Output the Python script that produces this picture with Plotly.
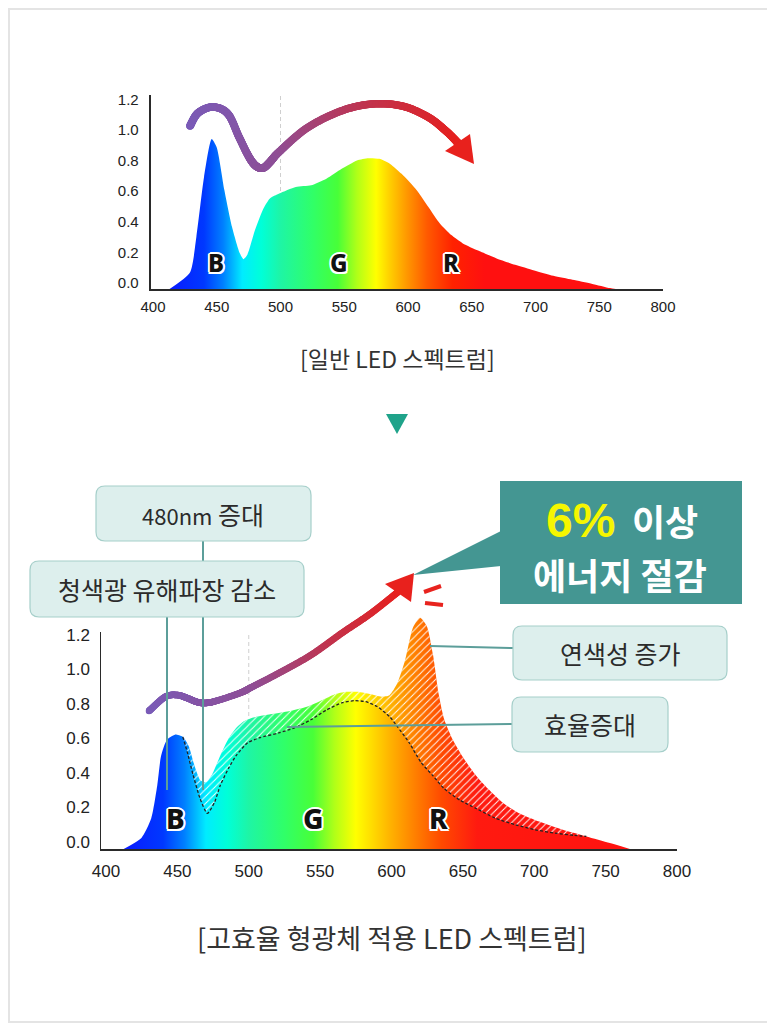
import numpy as np
import plotly.graph_objects as go

# page body has an 8px margin: the figure is sized to fill the remaining window exactly
OFF = 8
W, H = 775 - OFF, 1024 - OFF

# ---------------- data ----------------
# General LED spectrum (top chart)
GEN_NM = [413, 429, 434, 440, 446, 450, 456, 462, 468, 471, 474, 480, 486, 491.5, 499, 512, 524, 536,
          548, 560, 569, 577.5, 586, 595, 607, 616, 625, 634, 643, 655, 669.5, 684, 699, 714, 729, 744,
          758.5, 763]
GEN_VAL = [0, 0.108, 0.34, 0.73, 0.98, 0.925, 0.645, 0.405, 0.235, 0.195, 0.223, 0.385, 0.515, 0.59,
           0.623, 0.666, 0.677, 0.72, 0.785, 0.84, 0.854, 0.85, 0.817, 0.752, 0.644, 0.536, 0.428, 0.352,
           0.298, 0.251, 0.20, 0.158, 0.121, 0.086, 0.06, 0.035, 0.006, 0]

# High-efficiency phosphor LED spectrum (bottom chart)
NEW_NM = [412.4, 424.8, 431.7, 435.9, 438.6, 442.8, 448.3, 453.8, 457.9, 462, 466.2, 470.3, 474.5, 480,
          485.5, 491, 496.6, 502, 513, 527, 540.7, 551.7, 560, 568.3, 576.6, 584.8, 593, 598.6, 604,
          609.7, 615, 620, 624.8, 629, 633, 637, 642.8, 651, 659.3, 667.6, 678.6, 689.7, 703.4, 720,
          736.5, 753, 767]
NEW_VAL = [0, 0.064, 0.178, 0.368, 0.54, 0.635, 0.663, 0.65, 0.597, 0.483, 0.397, 0.387, 0.435, 0.54,
           0.635, 0.70, 0.74, 0.76, 0.778, 0.797, 0.825, 0.864, 0.896, 0.911, 0.911, 0.898, 0.883, 0.892,
           0.959, 1.10, 1.283, 1.34, 1.29, 1.13, 0.90, 0.749, 0.635, 0.52, 0.425, 0.349, 0.264, 0.206,
           0.159, 0.111, 0.073, 0.035, 0]

# Previous spectrum drawn dashed in the bottom chart
OLD_NM = [453.8, 457, 461, 466, 471, 476, 480, 486, 491, 499.3, 507.6, 521, 532, 543.4, 554.5, 565.5,
          573.8, 582, 590, 598.6, 604, 612.4, 620.7, 629, 637, 648, 659.3, 673, 687, 700.7, 714.5, 728,
          736.5]
OLD_VAL = [0.65, 0.56, 0.43, 0.29, 0.206, 0.27, 0.368, 0.47, 0.54, 0.616, 0.645, 0.673, 0.702, 0.749,
           0.806, 0.848, 0.86, 0.854, 0.826, 0.768, 0.711, 0.616, 0.502, 0.425, 0.349, 0.283, 0.235, 0.178,
           0.14, 0.111, 0.092, 0.079, 0.073]

X_TICKS = [400, 450, 500, 550, 600, 650, 700, 750, 800]
Y_TICKS = [0, 0.2, 0.4, 0.6, 0.8, 1.0, 1.2]
Y_TICKTEXT = ["0.0", "0.2", "0.4", "0.6", "0.8", "1.0", "1.2"]

SPECTRUM_NM = [400, 412, 440, 455, 470, 485, 500, 525, 545, 560, 575, 585, 600, 615, 635, 660, 800]
SPECTRUM_COL_TOP = ["#0a10ff", "#0a1aff", "#0038ff", "#0080ff", "#00ecff", "#00ffd8", "#1ef5a5", "#30ff68",
                    "#48ff38", "#b0ff18", "#ffff00", "#ffd200", "#ff9400", "#ff5a00", "#ff2200", "#ff1010",
                    "#ff1010"]
SPECTRUM_COL_BOT = ["#0a10ff", "#0a1aff", "#0038ff", "#0080ff", "#00ecff", "#00ffd8", "#1ef5a5", "#30ff68",
                    "#48ff38", "#b0ff18", "#ffff00", "#ffe000", "#ffb000", "#ff8400", "#ff4a00", "#ff1a10",
                    "#ff1010"]

CAPTION_TOP = "[일반 LED 스펙트럼]"
CAPTION_BOTTOM = "[고효율 형광체 적용 LED 스펙트럼]"
BAND_LABELS = ["B", "G", "R"]

KR = "Noto Sans CJK KR"
NUM = "Liberation Sans"

# ---------------- helpers ----------------
def catmull(pts, n=40):
    pts = np.asarray(pts, float)
    P = np.vstack([pts[0], pts, pts[-1]])
    out = []
    for i in range(1, len(P) - 2):
        p0, p1, p2, p3 = P[i - 1], P[i], P[i + 1], P[i + 2]
        t = np.linspace(0, 1, n, endpoint=False)[:, None]
        seg = 0.5 * ((2 * p1) + (-p0 + p2) * t + (2 * p0 - 5 * p1 + 4 * p2 - p3) * t ** 2
                     + (-p0 + 3 * p1 - 3 * p2 + p3) * t ** 3)
        out.append(seg)
    out.append(P[-2][None, :])
    return np.vstack(out)


def rrect(x0, y0, x1, y1, r=9):
    return (f"M{x0+r},{y0} L{x1-r},{y0} Q{x1},{y0} {x1},{y0+r} L{x1},{y1-r} Q{x1},{y1} {x1-r},{y1} "
            f"L{x0+r},{y1} Q{x0},{y1} {x0},{y1-r} L{x0},{y0+r} Q{x0},{y0} {x0+r},{y0} Z")


def dx(px):
    return (px - OFF) / W


def dy(py):
    return 1 - (py - OFF) / H


def grad(cols):
    cs = [[(nm - 400) / 400, c] for nm, c in zip(SPECTRUM_NM, cols)]
    return dict(type="horizontal", colorscale=cs, start=400, stop=800)


fig = go.Figure()

# ---------------- top chart ----------------
fig.add_trace(go.Scatter(x=GEN_NM, y=GEN_VAL, mode="lines", line=dict(width=0, shape="spline", smoothing=0.6),
                         fill="tozeroy", fillgradient=grad(SPECTRUM_COL_TOP), xaxis="x", yaxis="y",
                         hoverinfo="skip"))

# ---------------- bottom chart ----------------
fig.add_trace(go.Scatter(x=NEW_NM, y=NEW_VAL, mode="lines", line=dict(width=0, shape="spline", smoothing=0.6),
                         fill="tozeroy", fillgradient=grad(SPECTRUM_COL_BOT), xaxis="x2", yaxis="y2",
                         hoverinfo="skip"))
fig.add_trace(go.Scatter(x=OLD_NM, y=OLD_VAL, mode="lines", line=dict(width=0, shape="spline", smoothing=0.6),
                         xaxis="x2", yaxis="y2", hoverinfo="skip"))
mask = [(OLD_NM[0] <= n <= OLD_NM[-1]) for n in NEW_NM]
sub_x = [n for n, m in zip(NEW_NM, mask) if m]
sub_y = [v for v, m in zip(NEW_VAL, mask) if m]
fig.add_trace(go.Scatter(x=sub_x, y=sub_y, mode="lines", line=dict(width=0, shape="spline", smoothing=0.6),
                         fill="tonexty", fillcolor="rgba(0,0,0,0)",
                         fillpattern=dict(shape="/", fgcolor="white", bgcolor="rgba(0,0,0,0)", size=5,
                                          solidity=0.2, fgopacity=0.95),
                         xaxis="x2", yaxis="y2", hoverinfo="skip"))
fig.add_trace(go.Scatter(x=OLD_NM, y=OLD_VAL, mode="lines",
                         line=dict(width=1.3, color="#222", dash="3px,2px", shape="spline", smoothing=0.6),
                         xaxis="x2", yaxis="y2", hoverinfo="skip"))

# ---------------- decorative arrows (canvas axis, screen pixel space) ----------------
arrow_cs = [[0, "#7a5cb8"], [0.4, "#8f4f96"], [0.7, "#c0344f"], [1, "#e6211f"]]
TOP_ARROW = [(190, 126), (198, 113), (213, 107), (228, 114), (239, 137), (249, 157), (256, 166),
             (263, 168), (270, 162), (279, 152), (307, 128), (341, 111), (372, 104), (402, 106),
             (428, 117), (446, 131), (458, 143)]
BOT_ARROW = [(149, 711), (165, 697), (177, 695), (187, 698), (197, 702), (205, 703), (216, 701),
             (240, 693), (252, 687), (279, 673), (311, 655), (342, 633), (370, 614), (398, 592)]
for pts, sz in [(TOP_ARROW, 7.5), (BOT_ARROW, 6.5)]:
    c = catmull(pts)
    d = np.r_[0, np.cumsum(np.hypot(np.diff(c[:, 0]), np.diff(c[:, 1])))]
    t = d / d[-1]
    fig.add_trace(go.Scatter(x=c[:, 0], y=c[:, 1], mode="markers",
                             marker=dict(size=sz, color=t, colorscale=arrow_cs, cmin=0, cmax=1, line=dict(width=0)),
                             xaxis="x3", yaxis="y3", hoverinfo="skip"))

# ---------------- layout ----------------
top_yr = [0, (289 - 95) / 153.1]
bot_yr = [0, (849 - 612) / 172.5]
bot_axis_top = (849 - 632) / 172.5

axis_common = dict(showgrid=False, zeroline=False, showline=True, linecolor="#2a2a2a", linewidth=2,
                   ticks="", fixedrange=True, automargin=False)

fig.update_layout(
    width=W, height=H, margin=dict(l=0, r=0, t=0, b=0, pad=0), autosize=False,
    paper_bgcolor="white", plot_bgcolor="rgba(0,0,0,0)", showlegend=False,
    xaxis=dict(domain=[dx(150.7), dx(663)], range=[398.2, 800], tickvals=X_TICKS, anchor="y",
               tickfont=dict(family=NUM, size=15, color="#222"), ticklabelstandoff=3, **axis_common),
    yaxis=dict(domain=[dy(289), dy(95)], range=top_yr, tickvals=Y_TICKS, ticktext=Y_TICKTEXT, anchor="x",
               tickfont=dict(family=NUM, size=15, color="#222"), ticklabelshift=-6, ticklabelstandoff=7,
               **axis_common),
    xaxis2=dict(domain=[dx(100), dx(677)], range=[395.8, 800], tickvals=X_TICKS, anchor="y2",
                tickfont=dict(family=NUM, size=17, color="#222"), ticklabelstandoff=6, **axis_common),
    yaxis2=dict(domain=[dy(849), dy(612)], range=bot_yr, tickvals=Y_TICKS, ticktext=Y_TICKTEXT, anchor="x2",
                tickfont=dict(family=NUM, size=17, color="#222"), ticklabelshift=-7, ticklabelstandoff=9,
                showgrid=False, zeroline=False, showline=False, ticks="", fixedrange=True, automargin=False),
    xaxis3=dict(domain=[0, 1], range=[OFF, OFF + W], visible=False, anchor="y3", fixedrange=True,
                automargin=False),
    yaxis3=dict(domain=[0, 1], range=[OFF + H, OFF], visible=False, anchor="x3", fixedrange=True,
                automargin=False),
)

shapes = []
# frame border
shapes.append(dict(type="rect", xref="x3", yref="y3", x0=OFF + 1, y0=OFF + 1, x1=773, y1=1022,
                   line=dict(color="#e4e4e4", width=2), layer="below"))
# 500nm dashed guides
shapes.append(dict(type="line", xref="x", yref="y", x0=500, x1=500, y0=0, y1=top_yr[1],
                   line=dict(color="#cfcfcf", width=1, dash="4px,3px"), layer="below"))
shapes.append(dict(type="line", xref="x2", yref="y2", x0=500, x1=500, y0=0, y1=bot_axis_top,
                   line=dict(color="#cfcfcf", width=1, dash="4px,3px"), layer="below"))
# manual y axis line of bottom chart
shapes.append(dict(type="line", xref="x2", yref="y2", x0=395.8, x1=395.8, y0=0, y1=bot_axis_top,
                   line=dict(color="#2a2a2a", width=2), layer="above"))

# arrow heads
shapes.append(dict(type="path", xref="x3", yref="y3", path="M445,151 L470,134 L474,164 Z",
                   fillcolor="#e8211d", line=dict(width=0), layer="above"))
shapes.append(dict(type="path", xref="x3", yref="y3", path="M385,584 L414,573 L411,602 Z",
                   fillcolor="#e8211d", line=dict(width=0), layer="above"))
# sparkle dashes
for x0, y0, x1, y1 in [(424, 592, 441, 586), (425, 603, 443, 605)]:
    shapes.append(dict(type="line", xref="x3", yref="y3", x0=x0, y0=y0, x1=x1, y1=y1,
                       line=dict(color="#e8231e", width=4), layer="above"))

# connector lines (teal)
conn = "#5c9e9a"
for x0, y0, x1, y1 in [(203, 541, 203, 790), (167, 617, 167, 790), (430, 646, 513, 648), (287, 727, 512, 724)]:
    shapes.append(dict(type="line", xref="x3", yref="y3", x0=x0, y0=y0, x1=x1, y1=y1,
                       line=dict(color=conn, width=2), layer="above"))

# callout boxes
box_fill, box_line = "#ddefed", "#a6cfca"
for (x0, y0, x1, y1) in [(96, 486, 311, 541), (30, 561, 304, 617), (513, 626, 727, 680), (512, 697, 668, 752)]:
    shapes.append(dict(type="path", xref="x3", yref="y3", path=rrect(x0, y0, x1, y1),
                       fillcolor=box_fill, line=dict(color=box_line, width=1.2), layer="above"))

# energy-saving box with tail
teal = "#449692"
shapes.append(dict(type="path", xref="x3", yref="y3", path="M501,531 L413,575 L501,566 Z",
                   fillcolor=teal, line=dict(width=0), layer="above"))
shapes.append(dict(type="rect", xref="x3", yref="y3", x0=500, y0=481, x1=742, y1=604,
                   fillcolor=teal, line=dict(width=0), layer="above"))
# down triangle between charts
shapes.append(dict(type="path", xref="x3", yref="y3", path="M386,414 L408,414 L397,434 Z",
                   fillcolor="#1fa38a", line=dict(width=0), layer="above"))
fig.update_layout(shapes=shapes)

ann = []
def txt(x, y, s, size, color="#2b2b2b", family=KR, weight=400, shadow=None, **kw):
    f = dict(family=family, size=size, color=color, weight=weight)
    if shadow:
        f["shadow"] = shadow
    d = dict(x=x, y=y, xref="x3", yref="y3", text=s, showarrow=False, font=f,
             xanchor="center", yanchor="middle")
    d.update(kw)
    ann.append(d)

outline = ("-1.5px -1.5px 0 #fff, 1.5px -1.5px 0 #fff, -1.5px 1.5px 0 #fff, 1.5px 1.5px 0 #fff, "
           "0 2px 0 #fff, 0 -2px 0 #fff, 2px 0 0 #fff, -2px 0 0 #fff")
for lab, (x, y) in zip(BAND_LABELS, [(216, 262), (339, 262), (451, 262)]):
    txt(x, y, lab, 24, "#111", "Noto Sans", 800, outline)
for lab, (x, y) in zip(BAND_LABELS, [(175, 818), (313, 818), (438, 818)]):
    txt(x, y, lab, 28, "#111", "Noto Sans", 800, outline)

txt(397, 358, CAPTION_TOP, 23, "#333")
txt(392, 937, CAPTION_BOTTOM, 27, "#333")

txt(203, 514, '<span style="font-size:22px">480nm</span> 증대', 25)
txt(167, 589, "청색광 유해파장 감소", 25)
txt(620, 653, "연색성 증가", 25)
txt(590, 724, "효율증대", 25)

# energy-saving callout text (three pieces so line boxes do not collide)
txt(580, 520, "6%", 48, "#f6f600", NUM, 700)
txt(665, 520, "이상", 36, "white", KR, 700)
txt(620, 574, "에너지 절감", 36, "white", KR, 700)

fig.update_layout(annotations=ann)

fig.write_html("out.html")
